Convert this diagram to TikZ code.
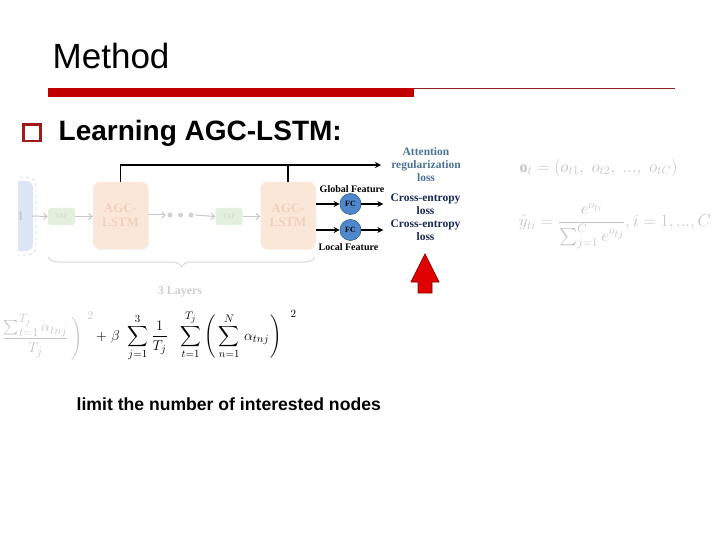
\documentclass[tikz,border=0pt]{standalone}
\usepackage{amsmath}
\usepackage{fontspec}
\setmainfont{Liberation Serif}
\setsansfont{Liberation Sans}
\usetikzlibrary{arrows.meta,decorations.pathreplacing,shadows}
\DeclareMathSizes{16}{16}{13}{10}
\DeclareMathSizes{16.5}{16.5}{12.5}{10}
\DeclareMathSizes{14}{14}{11}{9}
\DeclareMathSizes{14.5}{14.5}{11.5}{9}
\definecolor{barred}{HTML}{C00000}
\definecolor{thinred}{HTML}{8B2323}
\definecolor{bulletred}{HTML}{A01A1A}
\definecolor{fadegray}{HTML}{C8C8C8}
\definecolor{agcfill}{HTML}{FBE7D8}
\definecolor{agctext}{HTML}{EFD2BE}
\definecolor{tapfill}{HTML}{E4F0DE}
\definecolor{taptext}{HTML}{C9DCC0}
\definecolor{bluefill}{HTML}{DCE6F4}
\definecolor{fcfill}{HTML}{4F88CC}
\definecolor{fcdraw}{HTML}{2E5E8E}
\definecolor{attcol}{HTML}{4D7393}
\definecolor{cecol}{HTML}{1C2A55}
\definecolor{formgray}{HTML}{C4C4C4}
\definecolor{arrowred}{HTML}{E00000}
\definecolor{arrowdark}{HTML}{8E0000}
\tikzset{
  fadearrow/.style={draw=fadegray, line width=1pt, -{Straight Barb[length=3.5pt,width=6pt]}},
  agcbox/.style={fill=agcfill, rounded corners=7pt, minimum width=55pt, minimum height=67pt,
    text=agctext, align=center, inner sep=0pt,
    font=\bfseries\fontsize{13}{14}\selectfont,
    drop shadow={opacity=0.08, shadow xshift=1pt, shadow yshift=-1pt}},
  tapbox/.style={fill=tapfill, rounded corners=2.5pt, minimum width=27pt, minimum height=17pt,
    text=taptext, inner sep=0pt, font=\fontsize{7}{8}\selectfont},
  blk/.style={draw=black, line width=1.1pt},
  blkarrow/.style={blk, -{Stealth[length=6pt,width=6pt]}},
  fcnode/.style={circle, fill=fcfill, draw=fcdraw, line width=0.6pt, minimum size=21pt, inner sep=0pt,
    font=\bfseries\fontsize{8}{9}\selectfont, text=black},
  featlabel/.style={inner sep=0pt, font=\bfseries\fontsize{10}{11}\selectfont},
  losslabel/.style={inner sep=0pt, align=center, font=\bfseries\fontsize{11.5}{13}\selectfont},
}
\begin{document}
\begin{tikzpicture}[x=1pt,y=-1pt]
\useasboundingbox (0,0) rectangle (720,540);
\fill[white] (0,0) rectangle (720,540);

% title
\node[anchor=base west, inner sep=0pt, font=\sffamily\fontsize{35}{40}\selectfont] (title) at (52.5,69) {Method};
\fill[barred] (48,88.5) rectangle (414,97);
\draw[thinred, line width=0.9pt] (414,88.5) -- (675,88.5);

% bullet
\draw[bulletred, line width=2.4pt] (23.5,124.5) rectangle (40.5,141);
\node[anchor=base west, inner sep=0pt, font=\sffamily\bfseries\fontsize{28}{30}\selectfont] (learn) at (58.5,141) {Learning AGC-LSTM:};

% faded left part of the diagram
\begin{scope}
\clip (18,0) rectangle (720,540);
\fill[bluefill] (-20,181) [rounded corners=7pt] rectangle (33,251);
\draw[fadegray!70, dashed, line width=0.8pt, rounded corners=9pt] (-20,177) rectangle (36,255);
\node[inner sep=0pt, text=fadegray, font=\bfseries\fontsize{13}{14}\selectfont] (inl) at (20.5,216) {1};
\coordinate (inr) at (32,216);
\end{scope}

\node[tapbox] (tap1) at (61.5,216.5) {TAP};
\node[agcbox] (b1) at (120.5,215.5) {AGC-\\LSTM};
\fill[fadegray!80] (170,215) circle (2.6pt) (180.5,215) circle (2.6pt) (191,215) circle (2.6pt);
\coordinate (dotl) at (166,215);
\coordinate (dotr) at (195,215);
\node[tapbox] (tap2) at (229,216.5) {TAP};
\node[agcbox] (b2) at (288,215.5) {AGC-\\LSTM};

\draw[fadearrow] (inr) -- (tap1.west);
\draw[fadearrow] (tap1.east) -- (b1.west |- tap1);
\draw[fadearrow] (b1.east |- dotl) -- (dotl);
\draw[fadearrow] (dotr) -- (tap2.west);
\draw[fadearrow] (tap2.east) -- (b2.west |- tap2);

\draw[decorate, decoration={brace, mirror, amplitude=10pt}, draw=fadegray!70, line width=1pt]
  (48,257) -- (315,257);
\node[inner sep=0pt, text=fadegray!85, font=\bfseries\fontsize{12}{13}\selectfont] (layers) at (180,292) {3 Layers};

% outputs
\node[losslabel, text=attcol] (att) at (426,165) {Attention\\regularization\\loss};
\node[losslabel, text=cecol] (ce1) at (425.5,204.5) {Cross-entropy\\loss};
\node[losslabel, text=cecol] (ce2) at (425.5,230.5) {Cross-entropy\\loss};
\coordinate (attend) at (381,165);
\draw[blkarrow] (b1.north) |- (attend);
\draw[blk] (b2.north) -- (b2.north |- attend);

\node[fcnode] (fc1) at (350.5,204) {FC};
\node[fcnode] (fc2) at (350.5,230) {FC};
\node[featlabel] (glob) at (352,189) {Global Feature};
\node[featlabel] (loc) at (348.5,247.5) {Local Feature};
\draw[blkarrow] (b2.east |- fc1) -- (fc1.west);
\draw[blkarrow] (b2.east |- fc2) -- (fc2.west);
\draw[blkarrow] (fc1.east) -- ([xshift=-7pt]ce1.west |- fc1);
\draw[blkarrow] (fc2.east) -- ([xshift=-7pt]ce2.west |- fc2);

% red arrow
\draw[fill=arrowred, draw=arrowdark, line width=0.8pt, line join=miter]
  (425,254) -- (439,282) -- (432,282) -- (432,293) -- (418,293) -- (418,282) -- (411,282) -- cycle;

% formulas
\node[inner sep=0pt, text=formgray, font=\fontsize{16}{18}\selectfont] (ot) at (598.5,168)
  {$\mathbf{o}_t = (o_{t1},\; o_{t2},\; ...,\; o_{tC})$};
\node[inner sep=0pt, text=formgray, font=\fontsize{16.5}{18}\selectfont] (yhat) at (615,226)
  {$\hat{y}_{ti} = \dfrac{e^{o_{ti}}}{\sum_{j=1}^{C} e^{o_{tj}}}, i = 1, ..., C$};
\node[anchor=east, inner sep=0pt, text=formgray, font=\fontsize{14.5}{16}\selectfont] (lossa) at (94,336)
  {$\left(1-\dfrac{\sum_{t=1}^{T_j}\alpha_{tnj}}{T_j}\,\right)^{\hspace{5pt}2}$};
\node[anchor=west, inner sep=0pt, font=\fontsize{14}{16}\selectfont] (lossb) at (96,336)
  {$+\hspace{4pt}\beta\hspace{5pt}\displaystyle\sum_{j=1}^{3}\hspace{1pt}\frac{1}{T_j}\hspace{10pt}\sum_{t=1}^{T_j}\hspace{1pt}\left(\hspace{3pt}\sum_{n=1}^{N}\hspace{2pt}\alpha_{tnj}\hspace{1pt}\right)^{\hspace{9pt}2}$};

\node[anchor=base west, inner sep=0pt, font=\sffamily\bfseries\fontsize{17.6}{20}\selectfont] (limit) at (76.5,410) {limit the number of interested nodes};
\end{tikzpicture}
\end{document}
